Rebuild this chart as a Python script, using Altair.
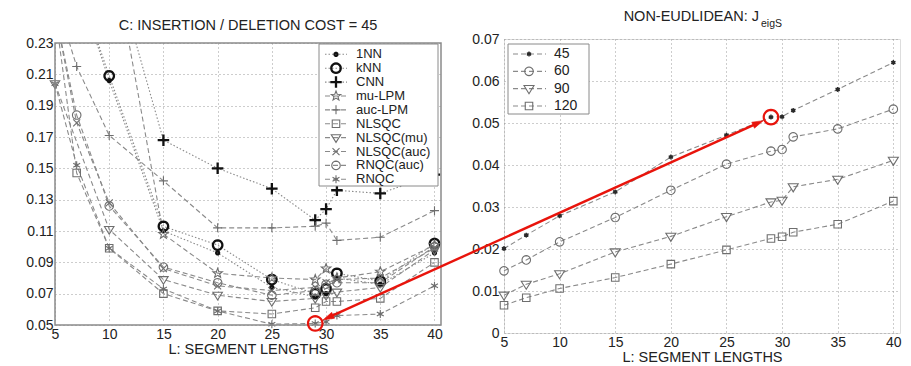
import math
import altair as alt
import pandas as pd

# ---------------- data ----------------
L = [5, 7, 10, 15, 20, 25, 29, 30, 31, 35, 40]

left_series = ["1NN", "kNN", "CNN", "mu-LPM", "auc-LPM", "NLSQC",
               "NLSQC(mu)", "NLSQC(auc)", "RNQC(auc)", "RNQC"]
N = None
err_1nn = [0.31, N, 0.206, 0.110, 0.096, 0.074, 0.068, 0.070, 0.080, 0.076, 0.096]
err_knn = [0.31, N, 0.209, 0.113, 0.101, 0.079, 0.070, 0.073, 0.083, 0.078, 0.102]
err_cnn = [N, N, 0.290, 0.168, 0.150, 0.137, 0.117, 0.124, 0.136, 0.134, 0.146]
err_mu_lpm = [0.40, N, 0.300, 0.108, 0.083, 0.080, 0.079, 0.086, 0.080, 0.084, 0.101]
err_auc_lpm = [0.26, 0.215, 0.171, 0.142, 0.112, 0.112, 0.113, 0.115, 0.104, 0.106, 0.123]
err_nlsqc = [0.25, 0.147, 0.099, 0.070, 0.059, 0.057, 0.061, 0.065, 0.065, 0.067, 0.090]
err_nlsqc_mu = [0.204, N, 0.111, 0.079, 0.069, 0.065, 0.067, 0.069, 0.071, 0.074, 0.098]
err_nlsqc_auc = [0.25, 0.179, 0.128, 0.086, 0.075, 0.072, 0.074, 0.077, 0.079, 0.080, 0.099]
err_rnqc_auc = [0.25, 0.184, 0.126, 0.087, 0.077, 0.069, 0.072, 0.076, 0.077, 0.077, 0.100]
err_rnqc = [0.204, 0.152, 0.099, 0.073, 0.059, 0.0505, 0.051, 0.052, 0.056, 0.057, 0.075]
left_values = [err_1nn, err_knn, err_cnn, err_mu_lpm, err_auc_lpm, err_nlsqc,
               err_nlsqc_mu, err_nlsqc_auc, err_rnqc_auc, err_rnqc]

right_series = ["45", "60", "90", "120"]
j_45 = [0.0201, 0.0233, 0.0279, 0.0336, 0.0419, 0.0471, 0.0514, 0.0515, 0.0530, 0.0580, 0.0644]
j_60 = [0.0148, 0.0174, 0.0217, 0.0275, 0.0340, 0.0402, 0.0433, 0.0437, 0.0467, 0.0486, 0.0533]
j_90 = [0.0090, 0.0116, 0.0141, 0.0193, 0.0230, 0.0277, 0.0312, 0.0316, 0.0348, 0.0366, 0.0411]
j_120 = [0.0066, 0.0084, 0.0106, 0.0132, 0.0164, 0.0198, 0.0225, 0.0229, 0.0240, 0.0259, 0.0314]
right_values = [j_45, j_60, j_90, j_120]

x_ticks = [5, 10, 15, 20, 25, 30, 35, 40]
left_y_ticks = [0.05, 0.07, 0.09, 0.11, 0.13, 0.15, 0.17, 0.19, 0.21, 0.23]
right_y_ticks = [0, 0.01, 0.02, 0.03, 0.04, 0.05, 0.06, 0.07]

left_title = "C: INSERTION / DELETION COST = 45"
right_title = "NON-EUDLIDEAN: J"
right_title_sub = "eigS"
x_title = "L: SEGMENT LENGTHS"

# ---------------- layout / style ----------------
FONT = "Liberation Sans"
TXT = "#222222"
LW, LH = 386, 282
RW, RH = 396, 294
GAP = 63
DROP = 4               # left frame starts this much below the right one
XDOM = [5, 40.6]
LYDOM = [0.05, 0.23]
RYDOM = [0.0, 0.07]
RED = "#e8140c"
LINE_GRAY = "#8a8a8a"
MARK_GRAY = "#6e6e6e"
FRAME = "#8a8a8a"


def poly(r, n=20):
    pts = [(r * math.cos(2 * math.pi * i / n), r * math.sin(2 * math.pi * i / n)) for i in range(n)]
    return "M" + "L".join(f"{x:.3f},{y:.3f}" for x, y in pts) + "Z"


def star5(ro, ri):
    pts = []
    for i in range(10):
        r = ro if i % 2 == 0 else ri
        a = math.radians(-90 + 36 * i)
        pts.append((r * math.cos(a), r * math.sin(a)))
    return "M" + "L".join(f"{x:.3f},{y:.3f}" for x, y in pts) + "Z"


def plus(r):
    return f"M{-r},0L{r},0M0,{-r}L0,{r}"


def xcross(r):
    return f"M{-r},{-r}L{r},{r}M{-r},{r}L{r},{-r}"


def asterisk(r, dot=0.22):
    a, b = 0.866 * r, 0.5 * r
    return f"M0,{-r}L0,{r}M{-a},{-b}L{a},{b}M{-a},{b}L{a},{-b}" + poly(dot, 8)


def square(r):
    return f"M{-r},{-r}L{r},{-r}L{r},{r}L{-r},{r}Z"


def tri_down(r):
    return f"M{-r},{-0.62 * r}L{r},{-0.62 * r}L0,{r}Z"


left_shapes = [poly(0.3, 10), poly(0.95), plus(1.15), star5(1.0, 0.42), plus(0.9),
               square(0.75), tri_down(0.95), xcross(0.7), poly(0.85), asterisk(0.8)]
left_dash = [[1.5, 2]] * 3 + [[5, 3]] * 7
bold_series = ["1NN", "kNN", "CNN"]

right_shapes = [asterisk(0.5, 0.28), poly(0.85), tri_down(1.0), square(0.75)]


def long_df(names, values, key):
    rows = []
    for name, vals in zip(names, values):
        for x, v in zip(L, vals):
            if v is not None:
                rows.append({"L": x, "v": v, key: name})
    return pd.DataFrame(rows)


ldf = long_df(left_series, left_values, "series")
rdf = long_df(right_series, right_values, "cost")
one = pd.DataFrame({"k": [0]})


def x_axis():
    return alt.Axis(values=x_ticks, title=x_title, labelFontSize=14, titleFontSize=14.5,
                    titleFontWeight="normal", labelColor=TXT, titleColor=TXT, labelFont=FONT,
                    titleFont=FONT, tickSize=0, ticks=False, labelPadding=2.5, titlePadding=1,
                    grid=True, gridDash=[1, 3], gridColor="#9a9a9a", gridWidth=1,
                    domain=False, labelFlush=False, labelOverlap=False)


def y_axis(vals, pad, expr=None):
    kw = dict(values=vals, title=None, labelFontSize=14, labelColor=TXT, labelFont=FONT,
              tickSize=0, ticks=False, labelPadding=pad, grid=True, gridDash=[1, 3],
              gridColor="#9a9a9a", gridWidth=1, domain=False, labelFlush=False,
              labelOverlap=False, format=".2f")
    if expr:
        kw["labelExpr"] = expr
    return alt.Axis(**kw)


def xs():
    return alt.X("L:Q", scale=alt.Scale(domain=XDOM, nice=False, zero=False), axis=x_axis())


def ys_left(axis=None):
    return alt.Y("v:Q", scale=alt.Scale(domain=LYDOM, range=[LH + DROP, DROP], nice=False, zero=False),
                 axis=axis)


def ys_right(axis=None):
    return alt.Y("v:Q", scale=alt.Scale(domain=RYDOM, nice=False, zero=False), axis=axis)


# ---------------- left panel ----------------
dash_l = alt.StrokeDash("series:N", scale=alt.Scale(domain=left_series, range=left_dash), legend=None)
shape_l = alt.Shape("series:N", scale=alt.Scale(domain=left_series, range=left_shapes), legend=None)
bold_pred = alt.FieldOneOfPredicate(field="series", oneOf=bold_series)

l_lines = alt.Chart(ldf).mark_line(clip=True, strokeWidth=1.1, color=LINE_GRAY).encode(
    x=xs(), y=ys_left(y_axis(left_y_ticks, 2)), strokeDash=dash_l, detail="series:N")

l_points = alt.Chart(ldf).transform_filter(f"datum.v <= {LYDOM[1] + 0.0005}").mark_point(
    filled=False, opacity=1, size=100).encode(
    x=xs(), y=ys_left(), shape=shape_l,
    stroke=alt.condition(bold_pred, alt.value("#111111"), alt.value(MARK_GRAY)),
    strokeWidth=alt.condition(bold_pred, alt.value(2.3), alt.value(1.1)))

# white strip above the left frame (hides grid / lines in the few px above it)
l_strip = alt.Chart(one).mark_rect(fill="white", strokeWidth=0).encode(
    x=alt.value(-2), x2=alt.value(LW + 2), y=alt.value(0), y2=alt.value(DROP - 0.6))
l_frame = alt.Chart(one).mark_rect(fill="transparent", stroke=FRAME, strokeWidth=1.5).encode(
    x=alt.value(0), x2=alt.value(LW), y=alt.value(DROP), y2=alt.value(LH + DROP))

i29 = L.index(29)
l_red = alt.Chart(pd.DataFrame({"L": [29], "v": [err_rnqc[i29]]})).mark_point(
    shape=poly(1.45, 28), size=100, filled=False, opacity=1, stroke=RED, strokeWidth=2.2).encode(
    x=xs(), y=ys_left())

lleg = pd.DataFrame({"series": left_series})
leg_y_l = alt.Y("series:N", scale=alt.Scale(type="point", domain=left_series,
                                             range=[11.3 + DROP, 136.3 + DROP], padding=0), axis=None)
l_leg_box = alt.Chart(one).mark_rect(fill="white", stroke="#8a8a8a", strokeWidth=1).encode(
    x=alt.value(264), x2=alt.value(383), y=alt.value(1 + DROP), y2=alt.value(143 + DROP))
l_leg_rule = alt.Chart(lleg).mark_rule(color=LINE_GRAY, strokeWidth=1.1).encode(
    x=alt.value(270), x2=alt.value(292), y=leg_y_l, strokeDash=dash_l)
l_leg_pts = alt.Chart(lleg).mark_point(filled=False, opacity=1, size=100).encode(
    x=alt.value(281), y=leg_y_l, shape=shape_l,
    stroke=alt.condition(bold_pred, alt.value("#111111"), alt.value(MARK_GRAY)),
    strokeWidth=alt.condition(bold_pred, alt.value(2.3), alt.value(1.1)))
l_leg_txt = alt.Chart(lleg).mark_text(align="left", baseline="middle", font=FONT, fontSize=13,
                                      color=TXT).encode(x=alt.value(301), y=leg_y_l, text="series:N")

l_title = alt.Chart(one).mark_text(text=left_title, font=FONT, fontSize=14.5, color=TXT,
                                   baseline="middle", align="center").encode(
    x=alt.value(LW / 2), y=alt.value(DROP - 17))

left = alt.layer(l_lines, l_points, l_strip, l_frame, l_red, l_leg_box, l_leg_rule, l_leg_pts,
                 l_leg_txt, l_title
                 ).resolve_scale(y="independent").properties(
    width=LW, height=LH + DROP, view=alt.ViewBackground(stroke="transparent"))

# ---------------- right panel ----------------
shape_r = alt.Shape("cost:N", scale=alt.Scale(domain=right_series, range=right_shapes), legend=None)
p45 = alt.FieldEqualPredicate(field="cost", equal="45")

r_lines = alt.Chart(rdf).mark_line(strokeWidth=1.1, color=LINE_GRAY, strokeDash=[5, 3]).encode(
    x=xs(), y=ys_right(y_axis(right_y_ticks, 5,
                              "datum.value == 0 ? '0' : format(datum.value, '.2f')")),
    detail="cost:N")
r_points = alt.Chart(rdf).mark_point(filled=False, opacity=1, size=100).encode(
    x=xs(), y=ys_right(), shape=shape_r,
    stroke=alt.condition(p45, alt.value("#2a2a2a"), alt.value(MARK_GRAY)),
    strokeWidth=alt.condition(p45, alt.value(1.3), alt.value(1.1)))
r_red = alt.Chart(pd.DataFrame({"L": [29], "v": [j_45[i29]]})).mark_point(
    shape=poly(1.45, 28), size=100, filled=False, opacity=1, stroke=RED, strokeWidth=2.2).encode(
    x=xs(), y=ys_right())

rleg = pd.DataFrame({"cost": right_series})
leg_y_r = alt.Y("cost:N", scale=alt.Scale(type="point", domain=right_series, range=[15, 67],
                                           padding=0), axis=None)
r_leg_box = alt.Chart(one).mark_rect(fill="white", stroke="#8a8a8a", strokeWidth=1).encode(
    x=alt.value(4), x2=alt.value(85), y=alt.value(5), y2=alt.value(75))
r_leg_rule = alt.Chart(rleg).mark_rule(color=LINE_GRAY, strokeWidth=1.1, strokeDash=[5, 3]).encode(
    x=alt.value(9), x2=alt.value(42), y=leg_y_r)
r_leg_pts = alt.Chart(rleg).mark_point(filled=False, opacity=1, size=100).encode(
    x=alt.value(25), y=leg_y_r, shape=shape_r,
    stroke=alt.condition(p45, alt.value("#2a2a2a"), alt.value(MARK_GRAY)),
    strokeWidth=alt.condition(p45, alt.value(1.3), alt.value(1.1)))
r_leg_txt = alt.Chart(rleg).mark_text(align="left", baseline="middle", font=FONT, fontSize=14,
                                      color=TXT).encode(x=alt.value(50), y=leg_y_r, text="cost:N")

r_title = alt.Chart(one).mark_text(text=right_title, font=FONT, fontSize=14.5, color=TXT,
                                   baseline="middle", align="right").encode(
    x=alt.value(255), y=alt.value(-22))
r_title_sub = alt.Chart(one).mark_text(text=right_title_sub, font=FONT, fontSize=10.5, color=TXT,
                                       baseline="middle", align="left").encode(
    x=alt.value(257), y=alt.value(-15))


# ---- red double-headed arrow linking the two highlighted points ----
def px(x, w):
    return (x - XDOM[0]) / (XDOM[1] - XDOM[0]) * w


def py(v, dom, h):
    return (dom[1] - v) / (dom[1] - dom[0]) * h


rc = (px(29, RW), py(j_45[i29], RYDOM, RH))
lc = (px(29, LW) - (LW + GAP), py(err_rnqc[i29], LYDOM, LH) + DROP)
dx, dy = lc[0] - rc[0], lc[1] - rc[1]
dist = math.hypot(dx, dy)
ux, uy = dx / dist, dy / dist
R_OFF, HEAD = 8.5, 6.0
tip_l = (lc[0] - ux * R_OFF, lc[1] - uy * R_OFF)
tip_r = (rc[0] + ux * R_OFF, rc[1] + uy * R_OFF)
head_l = (tip_l[0] - ux * HEAD, tip_l[1] - uy * HEAD)
head_r = (tip_r[0] + ux * HEAD, tip_r[1] + uy * HEAD)
ang_l = math.degrees(math.atan2(ux, -uy)) % 360
ang_r = math.degrees(math.atan2(-ux, uy)) % 360
ARROW = "M0,-1L0.55,0.85L-0.55,0.85Z"

r_arrow = alt.Chart(one).mark_rule(color=RED, strokeWidth=2.4).encode(
    x=alt.value(head_l[0]), y=alt.value(head_l[1]), x2=alt.value(head_r[0]), y2=alt.value(head_r[1]))
r_head_l = alt.Chart(one).mark_point(shape=ARROW, size=144, filled=True, fill=RED, stroke=RED,
                                     strokeWidth=0.5, opacity=1, angle=ang_l).encode(
    x=alt.value(head_l[0]), y=alt.value(head_l[1]))
r_head_r = alt.Chart(one).mark_point(shape=ARROW, size=144, filled=True, fill=RED, stroke=RED,
                                     strokeWidth=0.5, opacity=1, angle=ang_r).encode(
    x=alt.value(head_r[0]), y=alt.value(head_r[1]))

right = alt.layer(r_lines, r_points, r_red, r_leg_box, r_leg_rule, r_leg_pts, r_leg_txt,
                  r_title, r_title_sub, r_arrow, r_head_l, r_head_r
                  ).resolve_scale(y="independent").properties(width=RW, height=RH)

chart = alt.hconcat(left, right, spacing=GAP, bounds="flush").resolve_scale(
    shape="independent", strokeDash="independent"
).properties(
    padding={"left": 25, "top": 8, "right": 2, "bottom": 0},
    background="white",
).configure_view(stroke=FRAME, strokeWidth=1.5).configure(font=FONT)

chart.save("out.html", embed_options={"renderer": "svg", "actions": False})
